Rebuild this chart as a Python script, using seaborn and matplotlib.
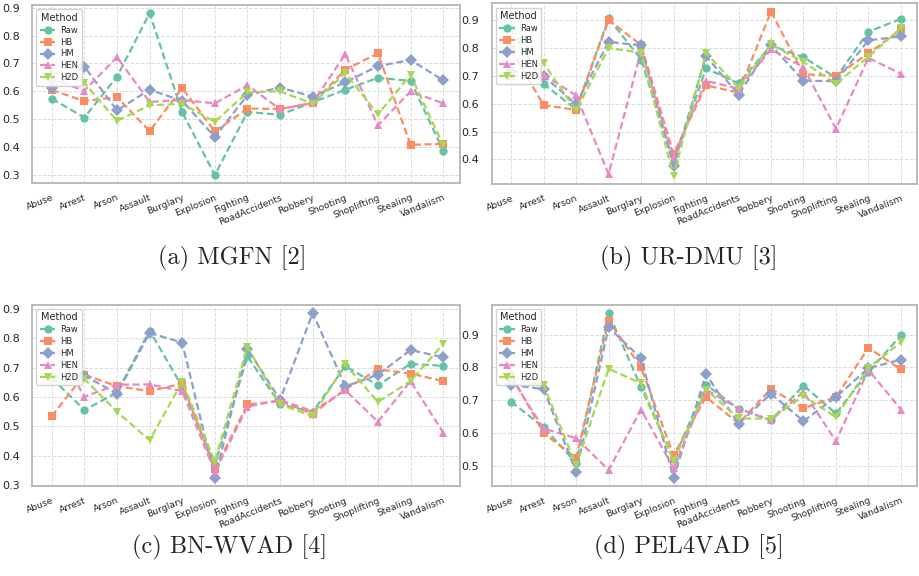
import pandas as pd
import matplotlib
matplotlib.use("Agg")
import matplotlib.pyplot as plt
import seaborn as sns
from matplotlib.ticker import MultipleLocator

categories = ["Abuse", "Arrest", "Arson", "Assault", "Burglary", "Explosion", "Fighting",
              "RoadAccidents", "Robbery", "Shooting", "Shoplifting", "Stealing", "Vandalism"]
methods = ["Raw", "HB", "HM", "HEN", "H2D"]

# (a) MGFN
mgfn_raw = [0.573, 0.505, 0.652, 0.880, 0.524, 0.298, 0.525, 0.515, 0.560, 0.605, 0.648, 0.637, 0.386]
mgfn_hb  = [0.604, 0.564, 0.579, 0.456, 0.611, 0.455, 0.537, 0.536, 0.557, 0.677, 0.736, 0.407, 0.410]
mgfn_hm  = [0.610, 0.688, 0.531, 0.605, 0.565, 0.435, 0.586, 0.613, 0.580, 0.632, 0.690, 0.712, 0.639]
mgfn_hen = [0.642, 0.602, 0.722, 0.561, 0.568, 0.556, 0.621, 0.535, 0.558, 0.733, 0.477, 0.599, 0.556]
mgfn_h2d = [0.670, 0.630, 0.493, 0.549, 0.554, 0.490, 0.596, 0.599, 0.555, 0.665, 0.517, 0.658, 0.405]

# (b) UR-DMU
urdmu_raw = [0.871, 0.671, 0.580, 0.907, 0.759, 0.390, 0.727, 0.673, 0.810, 0.767, 0.694, 0.859, 0.905]
urdmu_hb  = [0.795, 0.595, 0.578, 0.901, 0.811, 0.420, 0.666, 0.640, 0.931, 0.706, 0.700, 0.781, 0.867]
urdmu_hm  = [0.718, 0.700, 0.598, 0.822, 0.810, 0.378, 0.771, 0.633, 0.810, 0.683, 0.681, 0.828, 0.842]
urdmu_hen = [0.700, 0.704, 0.630, 0.347, 0.790, 0.410, 0.683, 0.654, 0.795, 0.731, 0.510, 0.765, 0.708]
urdmu_h2d = [0.865, 0.745, 0.576, 0.800, 0.784, 0.342, 0.783, 0.657, 0.813, 0.750, 0.672, 0.769, 0.872]

# (c) BN-WVAD
bnwvad_raw = [0.665, 0.556, 0.615, 0.826, 0.635, 0.370, 0.738, 0.575, 0.550, 0.705, 0.640, 0.713, 0.706]
bnwvad_hb  = [0.535, 0.676, 0.637, 0.620, 0.646, 0.355, 0.575, 0.586, 0.543, 0.626, 0.694, 0.680, 0.654]
bnwvad_hm  = [0.669, 0.673, 0.612, 0.818, 0.785, 0.325, 0.764, 0.590, 0.886, 0.636, 0.676, 0.760, 0.735]
bnwvad_hen = [0.800, 0.601, 0.642, 0.643, 0.620, 0.345, 0.567, 0.590, 0.552, 0.623, 0.516, 0.654, 0.479]
bnwvad_h2d = [0.651, 0.662, 0.550, 0.453, 0.652, 0.380, 0.771, 0.575, 0.535, 0.711, 0.583, 0.654, 0.781]

# (d) PEL4VAD
pel_raw = [0.696, 0.618, 0.510, 0.966, 0.740, 0.520, 0.748, 0.674, 0.640, 0.745, 0.660, 0.786, 0.898]
pel_hb  = [0.778, 0.600, 0.525, 0.943, 0.800, 0.533, 0.710, 0.630, 0.735, 0.676, 0.710, 0.860, 0.794]
pel_hm  = [0.747, 0.734, 0.482, 0.922, 0.828, 0.464, 0.780, 0.629, 0.720, 0.637, 0.710, 0.798, 0.824]
pel_hen = [0.770, 0.614, 0.585, 0.488, 0.672, 0.493, 0.733, 0.675, 0.639, 0.726, 0.576, 0.793, 0.672]
pel_h2d = [0.765, 0.747, 0.502, 0.796, 0.752, 0.515, 0.733, 0.645, 0.644, 0.713, 0.649, 0.799, 0.877]

captions = ["(a) MGFN [2]", "(b) UR-DMU [3]", "(c) BN-WVAD [4]", "(d) PEL4VAD [5]"]
panels = [
    [mgfn_raw, mgfn_hb, mgfn_hm, mgfn_hen, mgfn_h2d],
    [urdmu_raw, urdmu_hb, urdmu_hm, urdmu_hen, urdmu_h2d],
    [bnwvad_raw, bnwvad_hb, bnwvad_hm, bnwvad_hen, bnwvad_h2d],
    [pel_raw, pel_hb, pel_hm, pel_hen, pel_h2d],
]


def to_long(series):
    rows = []
    for m, vals in zip(methods, series):
        for c, v in zip(categories, vals):
            rows.append({"Category": c, "Score": v, "Method": m})
    return pd.DataFrame(rows)


sns.set_theme(style="whitegrid")
palette = sns.color_palette("Set2", 5)
markers = ["o", "s", "D", "^", "v"]

fig = plt.figure(figsize=(9.19, 5.76), dpi=100)
axes_pos = [
    [0.035, 0.682, 0.465, 0.309],
    [0.535, 0.681, 0.463, 0.313],
    [0.035, 0.156, 0.465, 0.315],
    [0.535, 0.156, 0.463, 0.315],
]
caption_pos = [(0.253, 0.552), (0.75, 0.552), (0.25, 0.050), (0.75, 0.050)]

for i, series in enumerate(panels):
    ax = fig.add_axes(axes_pos[i])
    df = to_long(series)
    sns.lineplot(data=df, x="Category", y="Score", hue="Method", style="Method",
                 markers=markers, dashes=[(3.2, 1.6)] * 5, palette=palette,
                 linewidth=1.6, markersize=6, markeredgewidth=0, ax=ax, sort=False)
    ax.set_xlabel("")
    ax.set_ylabel("")
    ax.yaxis.set_major_locator(MultipleLocator(0.1))
    ax.set_xlim(-0.6, 12.5)
    ax.tick_params(axis="y", labelsize=8, pad=3)
    ax.tick_params(axis="x", labelsize=6.6, pad=1)
    for lab in ax.get_xticklabels():
        lab.set_rotation(22)
        lab.set_ha("right")
        lab.set_rotation_mode("anchor")
    ax.grid(True, linestyle="--", color="#dddddd", linewidth=0.7)
    for sp in ax.spines.values():
        sp.set_color("#b5b5b5")
        sp.set_linewidth(1.3)
    ax.legend(title="Method", loc="upper left", fontsize=6, title_fontsize=7,
              borderpad=0.4, labelspacing=0.35, handlelength=1.9, handletextpad=0.6,
              framealpha=0.85)
    fig.text(caption_pos[i][0], caption_pos[i][1], captions[i], ha="center", va="center",
             fontsize=17.5, family="cmr10")

fig.savefig("out.png", dpi=100)
